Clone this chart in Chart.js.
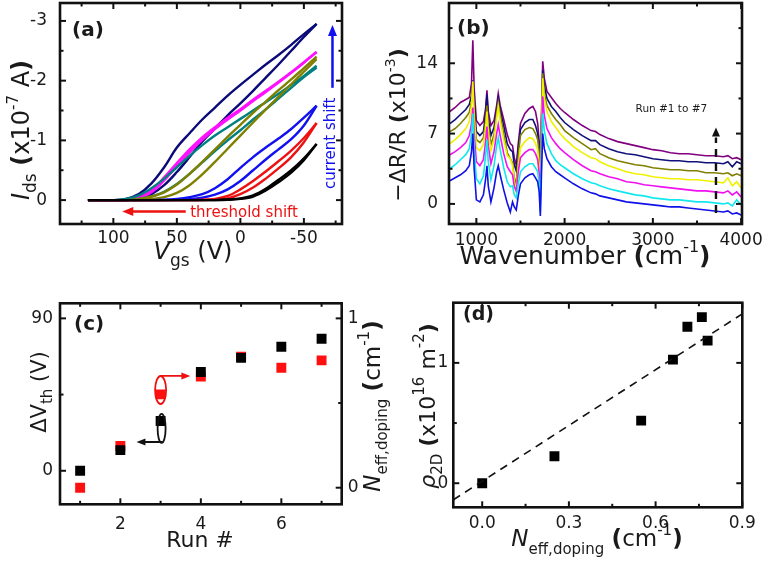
<!DOCTYPE html>
<html><head><meta charset="utf-8">
<script src="https://cdn.jsdelivr.net/npm/chart.js@4/dist/chart.umd.min.js"></script>
<style>
html,body{margin:0;padding:0;background:#fff;}
#wrap{position:relative;width:767px;height:563px;overflow:hidden;}
canvas{position:absolute;left:0;top:0;}
</style></head><body><div id="wrap">
<canvas id="ca" width="767" height="563"></canvas>
<canvas id="cb" width="767" height="563"></canvas>
<canvas id="cc" width="767" height="563"></canvas>
<canvas id="cd" width="767" height="563"></canvas>
</div>
<script>
// ---------------- Panel (a) data: gate sweeps ----------------
const vgs = [120,100,90,80,70,60,50,40,30,20,10,0,-10,-20,-30,-40,-50,-60];
const blackFwd   = [0,0,0,0,0,0,0,0,0,0,-0.01,-0.03,-0.08,-0.19,-0.34,-0.5,-0.7,-0.94];
const blackBwd   = [0,0,0,0,0,0,0,0,0,0,-0.005,-0.02,-0.06,-0.16,-0.3,-0.46,-0.67,-0.94];
const redFwd     = [0,0,0,0,0,0,0,0,-0.005,-0.02,-0.07,-0.18,-0.32,-0.48,-0.65,-0.83,-1.04,-1.29];
const redBwd     = [0,0,0,0,0,0,0,0,0,-0.01,-0.03,-0.1,-0.21,-0.36,-0.53,-0.72,-0.97,-1.29];
const blueFwd    = [0,0,0,0,0,-0.005,-0.02,-0.05,-0.1,-0.2,-0.35,-0.54,-0.72,-0.88,-1.03,-1.19,-1.38,-1.58];
const blueBwd    = [0,0,0,0,0,0,-0.005,-0.015,-0.04,-0.09,-0.18,-0.32,-0.5,-0.68,-0.85,-1.02,-1.25,-1.58];
const oliveFwd   = [0,0,0,-0.02,-0.06,-0.13,-0.26,-0.44,-0.64,-0.85,-1.06,-1.26,-1.46,-1.65,-1.84,-2.02,-2.21,-2.4];
const oliveBwd   = [0,0,0,0,-0.02,-0.05,-0.12,-0.25,-0.43,-0.64,-0.86,-1.08,-1.3,-1.52,-1.73,-1.94,-2.15,-2.36];
const tealFwd    = [0,0,-0.02,-0.08,-0.2,-0.36,-0.55,-0.74,-0.92,-1.08,-1.22,-1.36,-1.5,-1.64,-1.78,-1.93,-2.08,-2.25];
const tealBwd    = [0,0,0,-0.02,-0.06,-0.14,-0.27,-0.44,-0.63,-0.82,-1.0,-1.17,-1.35,-1.52,-1.7,-1.88,-2.06,-2.22];
const magentaFwd = [0,0,0,-0.05,-0.17,-0.38,-0.62,-0.85,-1.05,-1.22,-1.38,-1.52,-1.68,-1.83,-1.98,-2.14,-2.31,-2.48];
const magentaBwd = [0,0,0,-0.03,-0.13,-0.33,-0.57,-0.8,-1.01,-1.19,-1.35,-1.5,-1.66,-1.81,-1.97,-2.13,-2.3,-2.48];
const navyFwd    = [0,0,-0.02,-0.1,-0.28,-0.55,-0.88,-1.12,-1.35,-1.55,-1.75,-1.93,-2.1,-2.27,-2.43,-2.6,-2.78,-2.95];
const navyBwd    = [0,0,0,-0.03,-0.1,-0.25,-0.47,-0.72,-0.98,-1.2,-1.42,-1.62,-1.83,-2.05,-2.27,-2.5,-2.73,-2.95];
const aXTicks = [100,50,0,-50];
const aXMinor = [125,75,25,-25,-75];
const aYTicks = [-3,-2,-1,0];
const aYMinor = [-2.5,-1.5,-0.5];

// ---------------- Panel (b) data: spectra ----------------
const wavenumbers = [700,760,820,880,920,945,960,975,1000,1040,1080,1105,1120,1135,1165,1200,1230,1248,1270,1310,1350,1385,1410,1430,1452,1475,1500,1550,1600,1640,1670,1695,1712,1725,1738,1752,1770,1800,1850,1900,1950,2000,2100,2200,2300,2350,2400,2500,2600,2700,2800,2900,3000,3100,3200,3300,3400,3500,3600,3700,3800,3850,3900,3950,4000];
const spec1 = [2.3,2.6,2.9,3.3,3.8,5.2,7.0,3.5,0.4,0.2,0.9,2.5,3.8,1.8,0.2,1.6,3.2,3.8,2.9,1.4,0.1,-0.8,0.2,-0.3,-0.6,0.8,2.0,2.6,2.9,3.0,2.6,2.2,1.2,-1.2,3.0,7.0,5.5,4.5,3.7,3.2,2.9,2.6,2.0,1.5,1.1,1.0,0.8,0.6,0.4,0.2,0.1,0.0,-0.1,-0.2,-0.3,-0.3,-0.4,-0.5,-0.6,-0.7,-0.8,-0.7,-1.0,-0.9,-1.1];
const spec2 = [3.5,3.9,4.4,4.9,5.5,7.0,9.0,5.5,2.5,2.0,2.8,4.8,6.4,4.2,2.4,3.8,5.8,6.6,5.4,3.6,2.2,1.7,1.8,0.9,0.6,2.0,3.2,3.7,4.0,4.0,3.6,3.2,2.0,-0.8,4.5,9.0,7.3,6.0,5.0,4.3,3.9,3.6,3.0,2.5,2.1,2.0,1.8,1.5,1.3,1.1,0.9,0.8,0.6,0.5,0.4,0.4,0.3,0.2,0.2,0.1,0.0,0.1,-0.2,0.4,-0.1];
const spec3 = [4.9,5.2,5.6,6.1,6.8,8.0,9.6,7.0,4.2,3.8,4.4,6.2,7.7,5.8,4.0,5.2,7.0,7.9,6.8,5.0,3.7,3.2,2.9,1.7,1.3,3.2,4.6,5.1,5.4,5.4,5.0,4.4,3.0,0.4,5.5,10.7,8.8,7.5,6.6,6.0,5.5,5.1,4.4,3.8,3.3,3.2,3.0,2.7,2.5,2.2,2.1,1.9,1.8,1.7,1.6,1.5,1.4,1.3,1.3,1.2,1.1,1.3,0.9,1.2,0.7];
const spec4 = [6.0,6.4,6.9,7.5,8.2,9.8,12.2,8.6,5.6,5.3,5.9,7.6,9.2,7.2,5.3,6.4,8.6,9.7,8.3,6.4,4.8,4.5,3.8,2.2,1.2,3.8,5.6,6.2,6.6,6.5,6.0,5.4,3.8,1.0,7.0,12.5,10.5,9.2,8.2,7.6,7.0,6.5,5.7,5.1,4.6,4.5,4.2,3.8,3.5,3.2,3.0,2.9,2.7,2.6,2.5,2.5,2.4,2.4,2.3,2.2,2.1,2.6,1.8,2.2,1.6];
const spec5 = [7.2,7.5,8.0,8.6,9.1,10.2,11.6,9.3,6.4,6.1,6.6,8.3,9.8,7.8,5.9,6.9,9.0,10.1,8.9,7.0,5.1,4.5,4.1,2.6,2.0,4.8,6.8,7.4,7.6,7.5,7.0,6.4,5.0,1.3,7.5,13.0,11.0,9.8,9.0,8.4,7.9,7.3,6.6,6.0,5.4,5.5,5.0,4.6,4.3,4.1,3.9,3.8,3.6,3.5,3.4,3.4,3.3,3.3,3.1,3.1,3.0,3.1,2.8,3.0,2.8];
const spec6 = [8.0,8.4,8.9,9.4,9.9,10.8,12.3,10.0,7.2,6.8,7.2,9.0,10.9,8.5,6.8,7.6,9.3,10.5,9.4,7.8,6.0,5.4,5.2,3.9,3.3,5.5,7.4,8.1,8.4,8.4,7.8,7.0,5.6,1.8,8.0,13.3,11.8,10.5,9.7,9.2,8.6,8.1,7.4,6.8,6.3,6.3,5.9,5.5,5.2,5.0,4.9,4.7,4.5,4.4,4.3,4.3,4.2,4.2,4.1,4.1,4.0,4.2,3.7,4.2,4.0];
const spec7 = [9.2,9.6,10.1,10.4,10.6,12.0,16.3,11.5,8.3,7.8,8.2,9.5,11.3,9.2,7.8,8.3,9.8,11.0,9.8,8.4,6.9,6.0,5.8,4.6,3.8,6.0,8.0,9.0,9.5,9.7,9.2,8.0,6.2,2.4,9.0,14.2,12.5,11.2,10.6,10.0,9.5,9.1,8.4,7.8,7.3,7.2,6.9,6.5,6.2,6.0,5.8,5.6,5.4,5.3,5.1,5.0,5.0,4.9,4.8,4.8,4.7,4.8,4.5,4.6,4.4];
const bXTicks = [1000,2000,3000,4000];
const bXMinor = [1500,2500,3500];
const bYTicks = [0,7,14];
const bYMinor = [3.5,10.5,17.5];

// ---------------- Panel (c) data ----------------
const runs = [1,2,3,4,5,6,7];
const deltaVth = [0,12.2,29.4,58.3,66.7,73.2,78];
const nEffDoping = [0.0,0.246,0.551,0.657,0.773,0.708,0.752];
const cXTicks = [2,4,6];
const cXMinor = [1,3,5,7];
const cYTicks = [0,90];
const cYMinor = [45];
const cY2Ticks = [0,1];
const cY2Minor = [0.5];

// ---------------- Panel (d) data ----------------
const dNeff = [0.0,0.25,0.55,0.66,0.71,0.76,0.78];
const rho2D = [0.0,0.224,0.52,1.027,1.30,1.38,1.185];
const fitX = [-0.1,0.9];
const fitY = [-0.138,1.407];
const dXTicks = [0,0.3,0.6,0.9];
const dXMinor = [0.15,0.45,0.75];
const dYTicks = [0,1];
const dYMinor = [0.5];

// ---------------- helpers ----------------
const FF = '"DejaVu Sans", Verdana, sans-serif';
const fnt = (sz, st) => (st ? st + ' ' : '') + sz + 'px ' + FF;
Chart.defaults.font.family = FF;
Chart.defaults.color = '#1a1a1a';

function rich(ctx, segs, x, y, rot, align) {
  ctx.save();
  ctx.translate(x, y);
  ctx.rotate(rot || 0);
  let w = 0;
  segs.forEach(s => { ctx.font = s.f; s.w = ctx.measureText(s.t).width; w += s.w; });
  let cx = align === 'left' ? 0 : -w / 2;
  ctx.textBaseline = 'alphabetic';
  ctx.textAlign = 'left';
  segs.forEach(s => { ctx.font = s.f; ctx.fillStyle = s.c || '#1a1a1a'; ctx.fillText(s.t, cx, s.dy || 0); cx += s.w; });
  ctx.restore();
}

function arrowHead(ctx, x, y, dx, dy, len, half, color) {
  const n = Math.hypot(dx, dy); const ux = dx / n, uy = dy / n;
  ctx.save(); ctx.fillStyle = color; ctx.beginPath();
  ctx.moveTo(x, y);
  ctx.lineTo(x - ux * len - uy * half, y - uy * len + ux * half);
  ctx.lineTo(x - ux * len + uy * half, y - uy * len - ux * half);
  ctx.closePath(); ctx.fill(); ctx.restore();
}

function framePlugin(o) {
  return {
    id: 'frame',
    afterDatasetsDraw(chart) {
      const ctx = chart.ctx, a = chart.chartArea, xs = chart.scales.x, ys = chart.scales.y;
      const y2 = chart.scales.y2;
      ctx.save();
      ctx.strokeStyle = '#111';
      const tick = (x1, y1, x2, y2_, lw) => { ctx.lineWidth = lw; ctx.beginPath(); ctx.moveTo(x1, y1); ctx.lineTo(x2, y2_); ctx.stroke(); };
      const L = 6, l = 3.5;
      o.xMajor.forEach(v => { const p = xs.getPixelForValue(v); tick(p, a.bottom, p, a.bottom - L, 2); tick(p, a.top, p, a.top + L, 2); });
      o.xMinor.forEach(v => { const p = xs.getPixelForValue(v); tick(p, a.bottom, p, a.bottom - l, 2); tick(p, a.top, p, a.top + l, 2); });
      o.yMajor.forEach(v => { const p = ys.getPixelForValue(v); tick(a.left, p, a.left + L, p, 2); if (!y2) tick(a.right, p, a.right - L, p, 2); });
      o.yMinor.forEach(v => { const p = ys.getPixelForValue(v); tick(a.left, p, a.left + l, p, 2); if (!y2) tick(a.right, p, a.right - l, p, 2); });
      if (y2) {
        o.y2Major.forEach(v => { const p = y2.getPixelForValue(v); tick(a.right, p, a.right - L, p, 2); });
        o.y2Minor.forEach(v => { const p = y2.getPixelForValue(v); tick(a.right, p, a.right - l, p, 2); });
      }
      ctx.lineWidth = 2.6;
      ctx.strokeRect(a.left, a.top, a.right - a.left, a.bottom - a.top);
      ctx.restore();
      if (o.extra) o.extra(chart);
    }
  };
}

const YW = 50, XH = 40, Y2W = 40;
function fixedTicks(arr) { return s => { s.ticks = arr.map(v => ({ value: v })); }; }
const noPad = s => { s.paddingTop = 0; s.paddingBottom = 0; s.paddingLeft = 0; s.paddingRight = 0; };
const fixW = w => s => { s.width = w; noPad(s); };
const fixH = h => s => { s.height = h; noPad(s); };
function pad(l, t, r, b, hasY2) { return { left: l - YW, top: t, right: 767 - r - (hasY2 ? Y2W : 0), bottom: 563 - b - XH }; }
const tickFont = { family: FF, size: 17 };
const base = { responsive: false, animation: false, events: [], plugins: { legend: { display: false }, tooltip: { enabled: false } } };
function xAxis(min, max, ticks, padding, cb, reverse) {
  return { type: 'linear', reverse: !!reverse, min: min, max: max, afterBuildTicks: fixedTicks(ticks), afterFit: fixH(XH),
           grid: { display: false, drawTicks: false }, border: { display: false },
           ticks: { font: tickFont, padding: padding, maxRotation: 0, autoSkip: false, callback: cb || (v => String(v)) } };
}
function yAxis(min, max, ticks, padding, cb, reverse, pos) {
  return { type: 'linear', position: pos || 'left', reverse: !!reverse, min: min, max: max, afterBuildTicks: fixedTicks(ticks), afterFit: fixW(pos === 'right' ? Y2W : YW),
           grid: { display: false, drawTicks: false }, border: { display: false },
           ticks: { font: tickFont, padding: padding, autoSkip: false, callback: cb || (v => String(v)) } };
}

// ---------------- Panel (a) ----------------
function sweep(fwd, bwd, color) {
  return [
    { data: vgs.map((v, i) => ({ x: v, y: fwd[i] })), borderColor: color, borderWidth: 2.4, pointRadius: 0, tension: 0.35, fill: false },
    { data: vgs.map((v, i) => ({ x: v, y: bwd[i] })), borderColor: color, borderWidth: 2.4, pointRadius: 0, tension: 0.35, fill: false }
  ];
}
new Chart(document.getElementById('ca'), {
  type: 'line',
  data: { datasets: [].concat(
    sweep(blackFwd, blackBwd, '#000000'),
    sweep(redFwd, redBwd, '#ee1111'),
    sweep(blueFwd, blueBwd, '#1010f0'),
    sweep(oliveFwd, oliveBwd, '#808000'),
    sweep(tealFwd, tealBwd, '#008080'),
    sweep(magentaFwd, magentaBwd, '#ff10ff'),
    sweep(navyFwd, navyBwd, '#0a0a78')
  ) },
  options: Object.assign({}, base, {
    layout: { padding: pad(60, 3, 342, 224) },
    scales: {
      x: xAxis(-80, 142, aXTicks, 4, null, true),
      y: yAxis(-3.3, 0.4, aYTicks, 13, null, true)
    }
  }),
  plugins: [framePlugin({ xMajor: aXTicks, xMinor: aXMinor, yMajor: aYTicks, yMinor: aYMinor, extra(chart) {
    const ctx = chart.ctx, xs = chart.scales.x, ys = chart.scales.y;
    rich(ctx, [{ t: '(a)', f: fnt(20, 'bold') }], 72, 36, 0, 'left');
    rich(ctx, [{ t: 'V', f: fnt(24, 'italic') }, { t: 'gs', f: fnt(17), dy: 7 }, { t: ' (V)', f: fnt(24) }], 193, 259, 0);
    rich(ctx, [{ t: 'I', f: fnt(24, 'italic') }, { t: 'ds', f: fnt(17), dy: 7 }, { t: ' ', f: fnt(24) }, { t: '(', f: fnt(24, 'bold') },
               { t: 'x10', f: fnt(24) }, { t: '-7', f: fnt(15), dy: -11 }, { t: ' A', f: fnt(24) }, { t: ')', f: fnt(24, 'bold') }], 29, 130, -Math.PI / 2);
    const y0 = ys.getPixelForValue(0.19), xa = xs.getPixelForValue(43), xb = xs.getPixelForValue(93);
    ctx.save(); ctx.strokeStyle = '#ee1111'; ctx.lineWidth = 2.5; ctx.beginPath(); ctx.moveTo(xa, y0); ctx.lineTo(xb + 8, y0); ctx.stroke(); ctx.restore();
    arrowHead(ctx, xb, y0, -1, 0, 11, 4.5, '#ee1111');
    rich(ctx, [{ t: 'threshold shift', f: fnt(15), c: '#ee1111' }], xs.getPixelForValue(39.5), ys.getPixelForValue(0.29), 0, 'left');
    const xc = xs.getPixelForValue(-72.5), ya = ys.getPixelForValue(-1.88), yb = ys.getPixelForValue(-2.93);
    ctx.save(); ctx.strokeStyle = '#1010f0'; ctx.lineWidth = 2.5; ctx.beginPath(); ctx.moveTo(xc, ya); ctx.lineTo(xc, yb + 8); ctx.stroke(); ctx.restore();
    arrowHead(ctx, xc, yb, 0, -1, 11, 4.5, '#1010f0');
    rich(ctx, [{ t: 'current shift', f: fnt(15), c: '#1010f0' }], xs.getPixelForValue(-74.5), ys.getPixelForValue(-0.95), -Math.PI / 2);
  } })]
});

// ---------------- Panel (b) ----------------
const specColors = ['#1010e8', '#10e8ee', '#f010f0', '#f0f000', '#808000', '#10107a', '#800080'];
const specs = [spec1, spec2, spec3, spec4, spec5, spec6, spec7];
new Chart(document.getElementById('cb'), {
  type: 'line',
  data: { datasets: specs.map((s, k) => ({ data: wavenumbers.map((w, i) => ({ x: w, y: s[i] })), borderColor: specColors[k], borderWidth: 1.6, pointRadius: 0, tension: 0, fill: false })) },
  options: Object.assign({}, base, {
    layout: { padding: pad(449, 3, 742, 224) },
    scales: {
      x: xAxis(690, 4010, bXTicks, 6),
      y: yAxis(-2, 20, bYTicks, 11)
    }
  }),
  plugins: [framePlugin({ xMajor: bXTicks, xMinor: bXMinor, yMajor: bYTicks, yMinor: bYMinor, extra(chart) {
    const ctx = chart.ctx, xs = chart.scales.x, ys = chart.scales.y;
    rich(ctx, [{ t: '(b)', f: fnt(20, 'bold') }], 457, 34, 0, 'left');
    rich(ctx, [{ t: 'Wavenumber ', f: fnt(25) }, { t: '(', f: fnt(25, 'bold') }, { t: 'cm', f: fnt(25) }, { t: '-1', f: fnt(16), dy: -12 }, { t: ')', f: fnt(25, 'bold') }], 585, 264, 0);
    rich(ctx, [{ t: '\u2212\u0394R/R ', f: fnt(22) }, { t: '(', f: fnt(22, 'bold') }, { t: 'x10', f: fnt(22) }, { t: '-3', f: fnt(14), dy: -10 }, { t: ')', f: fnt(22, 'bold') }], 405, 125, -Math.PI / 2);
    const xa = xs.getPixelForValue(3715);
    const yBot = ys.getPixelForValue(-0.9), yMid = ys.getPixelForValue(6.6), yTip = ys.getPixelForValue(7.6);
    ctx.save(); ctx.strokeStyle = '#111'; ctx.lineWidth = 2.4; ctx.setLineDash([8, 6]); ctx.beginPath(); ctx.moveTo(xa, yBot); ctx.lineTo(xa, yMid); ctx.stroke(); ctx.restore();
    arrowHead(ctx, xa, yTip, 0, -1, 9, 4, '#111');
    rich(ctx, [{ t: 'Run #1 to #7', f: fnt(10.5) }], xs.getPixelForValue(3210), ys.getPixelForValue(9.1), 0);
  } })]
});

// ---------------- Panel (c) ----------------
new Chart(document.getElementById('cc'), {
  type: 'scatter',
  data: { datasets: [
    { data: runs.map((r, i) => ({ x: r, y: deltaVth[i] })), yAxisID: 'y', pointStyle: 'rect', pointRadius: 7, backgroundColor: '#000', borderWidth: 0 },
    { data: runs.map((r, i) => ({ x: r, y: nEffDoping[i] })), yAxisID: 'y2', pointStyle: 'rect', pointRadius: 7, backgroundColor: '#ff1010', borderWidth: 0 }
  ] },
  options: Object.assign({}, base, {
    layout: { padding: pad(60, 303.3, 341.7, 504.3, true) },
    scales: {
      x: xAxis(0.5, 7.5, cXTicks, 10),
      y: yAxis(-19.8, 98.9, cYTicks, 7),
      y2: yAxis(-0.098, 1.089, cY2Ticks, 6, null, false, 'right')
    }
  }),
  plugins: [framePlugin({ xMajor: cXTicks, xMinor: cXMinor, yMajor: cYTicks, yMinor: cYMinor, y2Major: cY2Ticks, y2Minor: cY2Minor, extra(chart) {
    const ctx = chart.ctx, xs = chart.scales.x, ys = chart.scales.y, y2 = chart.scales.y2;
    rich(ctx, [{ t: '(c)', f: fnt(20, 'bold') }], 74, 330, 0, 'left');
    rich(ctx, [{ t: 'Run #', f: fnt(22) }], 200, 547, 0);
    rich(ctx, [{ t: '\u0394V', f: fnt(21) }, { t: 'th', f: fnt(15), dy: 6 }, { t: ' (V)', f: fnt(21) }], 46, 392, -Math.PI / 2);
    rich(ctx, [{ t: 'N', f: fnt(23, 'italic') }, { t: 'eff,doping', f: fnt(15), dy: 7 }, { t: ' ', f: fnt(23) }, { t: '(', f: fnt(23, 'bold') },
               { t: 'cm', f: fnt(23) }, { t: '-1', f: fnt(15), dy: -11 }, { t: ')', f: fnt(23, 'bold') }], 380, 406, -Math.PI / 2);
    const rx = xs.getPixelForValue(3), ry = y2.getPixelForValue(0.577);
    ctx.save(); ctx.strokeStyle = '#ee1111'; ctx.lineWidth = 1.8;
    ctx.beginPath(); ctx.ellipse(rx, ry, 5.5, 14, 0, 0, Math.PI * 2); ctx.stroke();
    const ay = y2.getPixelForValue(0.66), ax2 = xs.getPixelForValue(3.74);
    ctx.beginPath(); ctx.moveTo(rx, ry - 14); ctx.lineTo(rx + 2, ay); ctx.lineTo(ax2 - 7, ay); ctx.stroke(); ctx.restore();
    arrowHead(ctx, ax2, ay, 1, 0, 9, 3.5, '#ee1111');
    const by = ys.getPixelForValue(25);
    ctx.save(); ctx.strokeStyle = '#111'; ctx.lineWidth = 1.8;
    ctx.beginPath(); ctx.ellipse(rx + 1, by, 4, 14.5, 0, 0, Math.PI * 2); ctx.stroke();
    const ly = ys.getPixelForValue(17), lx = xs.getPixelForValue(2.4);
    ctx.beginPath(); ctx.moveTo(rx + 1, by + 14.5); ctx.lineTo(rx + 1, ly); ctx.lineTo(lx + 7, ly); ctx.stroke(); ctx.restore();
    arrowHead(ctx, lx, ly, -1, 0, 9, 3.5, '#111');
  } })]
});

// ---------------- Panel (d) ----------------
new Chart(document.getElementById('cd'), {
  type: 'scatter',
  data: { datasets: [
    { type: 'line', data: fitX.map((x, i) => ({ x: x, y: fitY[i] })), borderColor: '#111', borderWidth: 1.6, borderDash: [8, 6], pointRadius: 0, fill: false },
    { data: dNeff.map((x, i) => ({ x: x, y: rho2D[i] })), pointStyle: 'rect', pointRadius: 7, backgroundColor: '#000', borderWidth: 0 }
  ] },
  options: Object.assign({}, base, {
    layout: { padding: pad(453.3, 302.7, 742.3, 507.3) },
    scales: {
      x: xAxis(-0.1, 0.9, dXTicks, 6, v => v.toFixed(1)),
      y: yAxis(-0.2, 1.5, dYTicks, 5)
    }
  }),
  plugins: [framePlugin({ xMajor: dXTicks, xMinor: dXMinor, yMajor: dYTicks, yMinor: dYMinor, extra(chart) {
    const ctx = chart.ctx;
    rich(ctx, [{ t: '(d)', f: fnt(19, 'bold') }], 463, 320, 0, 'left');
    rich(ctx, [{ t: 'N', f: fnt(23, 'italic') }, { t: 'eff,doping', f: fnt(15), dy: 8 }, { t: ' ', f: fnt(23) }, { t: '(', f: fnt(23, 'bold') },
               { t: 'cm', f: fnt(23) }, { t: '-1', f: fnt(15), dy: -11 }, { t: ')', f: fnt(23, 'bold') }], 597, 546, 0);
    rich(ctx, [{ t: '\u03C1', f: fnt(22, 'italic') }, { t: '2D', f: fnt(15), dy: 7 }, { t: ' ', f: fnt(22) }, { t: '(', f: fnt(22, 'bold') },
               { t: 'x10', f: fnt(22) }, { t: '16', f: fnt(15), dy: -11 }, { t: ' m', f: fnt(22) }, { t: '-2', f: fnt(15), dy: -11 }, { t: ')', f: fnt(22, 'bold') }], 435, 406, -Math.PI / 2);
  } })]
});
</script>
</body></html>
